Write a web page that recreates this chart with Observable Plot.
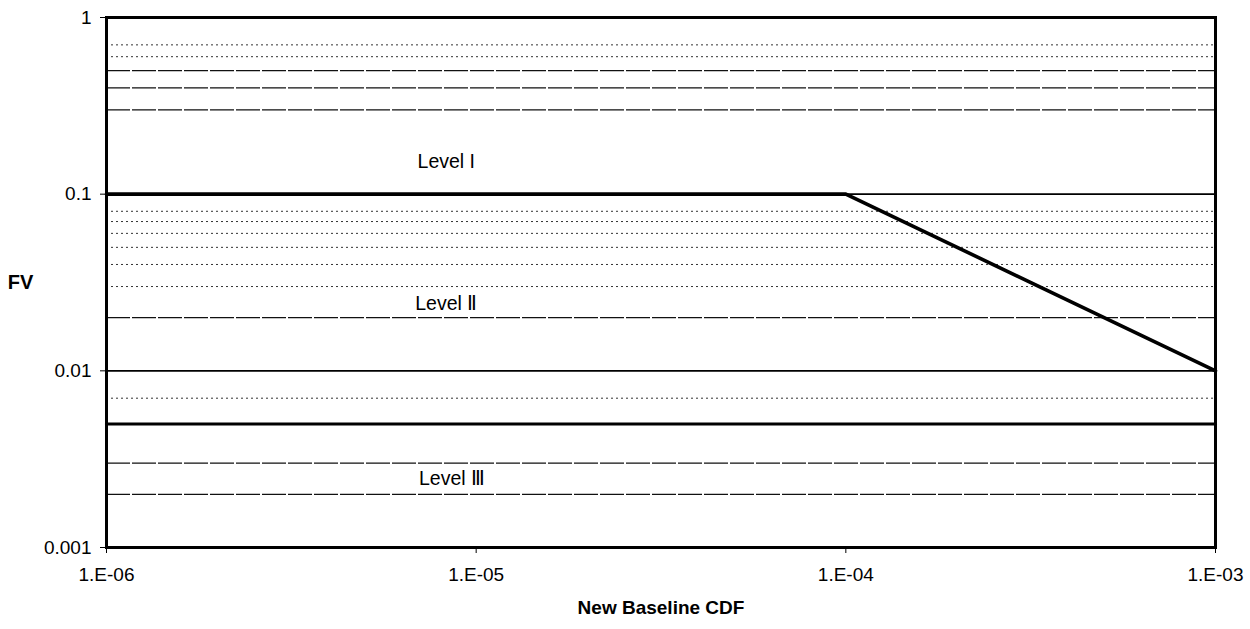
<!DOCTYPE html>
<html>
<head>
<meta charset="utf-8">
<script src="https://cdn.jsdelivr.net/npm/d3@7"></script>
<script src="https://cdn.jsdelivr.net/npm/@observablehq/plot@0.6"></script>
<style>
  html, body { margin: 0; padding: 0; background: #fff; }
  #chart svg { display: block; }
</style>
</head>
<body>
<div id="chart"></div>
<script>
// ---- data ----
const xTicks = [1e-6, 1e-5, 1e-4, 1e-3];
const xTickLabels = ["1.E-06", "1.E-05", "1.E-04", "1.E-03"];
const yTicks = [0.001, 0.01, 0.1, 1];
const yTickLabels = ["0.001", "0.01", "0.1", "1"];

const boundaryCDF = [1e-6, 1e-4, 1e-3];
const boundaryFV = [0.1, 0.1, 0.01];

const level3CDF = [1e-6, 1e-3];
const level3FV = [0.005, 0.005];

const majorGrid = [0.1, 0.01];
const denseGrid = [0.5, 0.4, 0.3, 0.02, 0.003, 0.002];
const faintGrid = [0.7, 0.6, 0.08, 0.07, 0.06, 0.05, 0.04, 0.03, 0.007];

const levelNames = ["Level I", "Level Ⅱ", "Level Ⅲ"];
const levelCDF = [8.3e-6, 8.3e-6, 8.6e-6];
const levelFV = [0.153, 0.024, 0.00246];

const xTitle = "New Baseline CDF";
const yTitle = "FV";

// ---- helpers ----
const lookup = (ticks, labels) => d => {
  const i = ticks.findIndex(t => Math.abs(Math.log10(t) - Math.log10(d)) < 1e-6);
  return i >= 0 ? labels[i] : "";
};
const boundary = boundaryCDF.map((x, i) => ({x, y: boundaryFV[i]}));
const level3 = level3CDF.map((x, i) => ({x, y: level3FV[i]}));
const levels = levelNames.map((name, i) => ({name, x: levelCDF[i], y: levelFV[i]}));

const font = "'Liberation Sans', Arial, Helvetica, sans-serif";

const chart = Plot.plot({
  width: 1250,
  height: 629,
  marginLeft: 106,
  marginRight: 35,
  marginTop: 17,
  marginBottom: 82,
  style: {fontFamily: font, fontSize: "18px", color: "#000", background: "#fff", overflow: "visible"},
  x: {type: "log", domain: [1e-6, 1e-3]},
  y: {type: "log", domain: [0.001, 1]},
  marks: [
    Plot.ruleY(faintGrid, {stroke: "#333", strokeWidth: 1, strokeDasharray: "2,3"}),
    Plot.ruleY(denseGrid, {stroke: "#111", strokeWidth: 1.2, strokeDasharray: "24,2"}),
    Plot.ruleY(majorGrid, {stroke: "#000", strokeWidth: 1.8}),
    Plot.line(level3, {x: "x", y: "y", stroke: "#000", strokeWidth: 3.2}),
    Plot.line(boundary, {x: "x", y: "y", stroke: "#000", strokeWidth: 3.6, strokeLinejoin: "miter"}),
    Plot.axisX({ticks: xTicks, tickFormat: lookup(xTicks, xTickLabels), tickSize: 6, tickPadding: 14,
      fontSize: 19, label: null, stroke: "#000", fill: "#000"}),
    Plot.axisY({ticks: yTicks, tickFormat: lookup(yTicks, yTickLabels), tickSize: 6, tickPadding: 9,
      fontSize: 19, label: null, stroke: "#000", fill: "#000"}),
    Plot.text(levels, {x: "x", y: "y", text: "name", fill: "#000", fontSize: 19.5, textAnchor: "middle"}),
    Plot.text([yTitle], {frameAnchor: "left", dx: -86, text: d => d, fontWeight: "bold", fontSize: 20, textAnchor: "middle", fill: "#000"}),
    Plot.text([xTitle], {frameAnchor: "bottom", dy: 66, text: d => d, fontWeight: "bold", fontSize: 19, textAnchor: "middle", fill: "#000", letterSpacing: "1.2px"}),
    Plot.frame({stroke: "#000", strokeWidth: 3})
  ]
});

document.getElementById("chart").appendChild(chart);
</script>
</body>
</html>
